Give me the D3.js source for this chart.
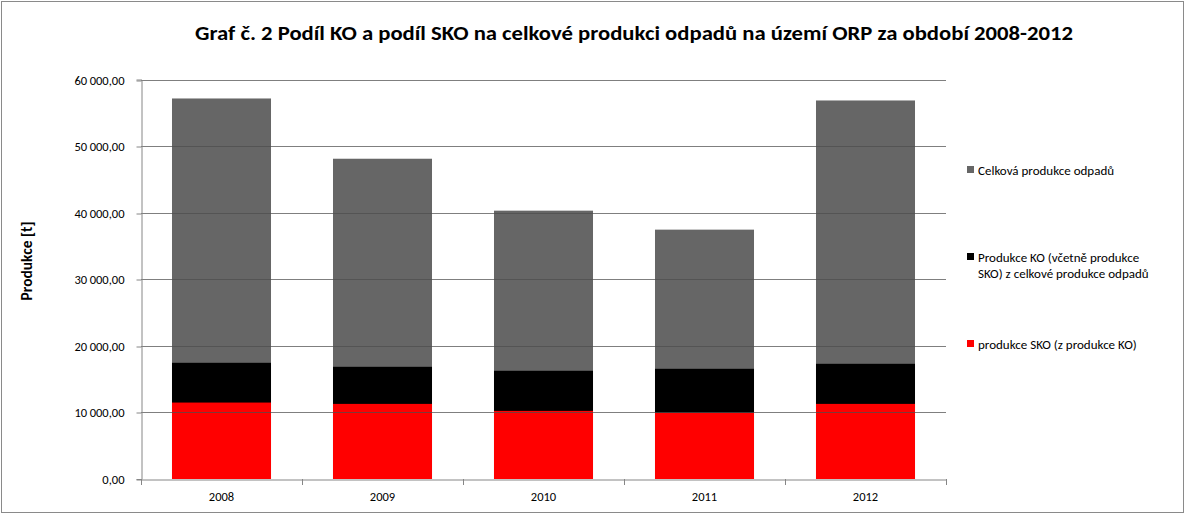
<!DOCTYPE html>
<html><head><meta charset="utf-8">
<script src="https://cdn.jsdelivr.net/npm/d3@7/dist/d3.min.js"></script>
<style>body{margin:0;background:#fff}svg{display:block}</style>
</head><body><svg id="c" width="1186" height="515"></svg>
<script>
const years = ["2008","2009","2010","2011","2012"];
const celkova = [57150, 48100, 40300, 37450, 56850];
const ko = [17450, 16850, 16250, 16550, 17300];
const sko = [11480, 11280, 10230, 9930, 11280];
const yTicks = [0,10000,20000,30000,40000,50000,60000];
const seriesNames = ["Celková produkce odpadů","Produkce KO (včetně produkce SKO) z celkové produkce odpadů","produkce SKO (z produkce KO)"];
const colors = ["#666666","#000000","#ff0000"];

const svg = d3.select("#c");
const font = "Calibri, Carlito, Lato, 'Open Sans', sans-serif";
svg.append("rect").attr("x",1.5).attr("y",1.5).attr("width",1182).attr("height",511).attr("fill","#fff").attr("stroke","#8a8a8a");

const L=141, R=946, T=79.5, B=479;
const x = d3.scaleBand().domain(years).range([L,R]).paddingInner(0.385).paddingOuter(0.1925);
const y = d3.scaleLinear().domain([0,60000]).range([B,T]);

const series=[celkova,ko,sko];
series.forEach((s,i)=>{
  svg.append("g").selectAll("rect").data(years).join("rect")
    .attr("x",d=>x(d)).attr("width",x.bandwidth())
    .attr("y",(d,j)=>y(s[j])).attr("height",(d,j)=>B-y(s[j]))
    .attr("fill",colors[i]);
});

// gridlines on top (semi-transparent)
svg.append("g").selectAll("line").data(yTicks.slice(1)).join("line")
  .attr("x1",L).attr("x2",R).attr("y1",d=>Math.round(y(d))+0.5).attr("y2",d=>Math.round(y(d))+0.5)
  .attr("stroke","rgb(78,78,78)").attr("stroke-opacity",0.72);

const fmt = v => v===0 ? "0,00" : d3.format(",.2f")(v).replace(/,/g," ").replace(/\.(\d\d)$/,",$1").replace(/ (\d\d\d)/g,"\u2009$1");
const ya = svg.append("g").attr("transform",`translate(${L+0.5},0)`)
  .call(d3.axisLeft(y).tickValues(yTicks).tickSize(5).tickPadding(13).tickFormat(fmt));
ya.selectAll("text").attr("font-family",font).attr("font-size",12.5).attr("fill","#000").attr("dy","0.35em").attr("x",-17).attr("y", d=>Math.round(y(d))+0.5-y(d));
ya.selectAll(".tick line").attr("stroke","#868686").attr("transform",d=>`translate(0,${Math.round(y(d))+0.5-y(d)})`);
ya.select(".domain").attr("stroke","#868686");

const xa = svg.append("g").attr("transform",`translate(0,${B+0.5})`)
  .call(d3.axisBottom(x).tickSize(0).tickPadding(13));
xa.selectAll("text").attr("font-family",font).attr("font-size",12.5).attr("fill","#000");
xa.select(".domain").attr("stroke","#868686");
const step = x.step();
svg.append("g").selectAll("line").data(d3.range(6)).join("line")
  .attr("x1",d=>Math.round(L+d*step)+0.5).attr("x2",d=>Math.round(L+d*step)+0.5)
  .attr("y1",B).attr("y2",B+6).attr("stroke","#868686");

svg.append("text").attr("x",634).attr("y",40).attr("text-anchor","middle")
  .attr("font-family",font).attr("font-weight","bold").attr("font-size",20)
  .attr("textLength",878).attr("lengthAdjust","spacingAndGlyphs")
  .text("Graf č. 2 Podíl KO a podíl SKO na celkové produkci odpadů na území ORP za období 2008-2012");

svg.append("text").attr("transform","translate(32,261) rotate(-90)").attr("text-anchor","middle")
  .attr("font-family",font).attr("font-weight","bold").attr("font-size",15.5).text("Produkce [t]");

// legend
const leg = [{y:170,lines:[seriesNames[0]]},{y:257,lines:["Produkce KO (včetně produkce","SKO) z celkové produkce odpadů"]},{y:344,lines:[seriesNames[2]]}];
leg.forEach((e,i)=>{
  svg.append("rect").attr("x",967).attr("y",e.y-4).attr("width",7).attr("height",7).attr("fill",colors[i]);
  e.lines.forEach((t,k)=>{
    svg.append("text").attr("x",978).attr("y",e.y+k*16).attr("dy","0.35em")
      .attr("font-family",font).attr("font-size",13).attr("fill","#000").text(t);
  });
});
</script></body></html>
